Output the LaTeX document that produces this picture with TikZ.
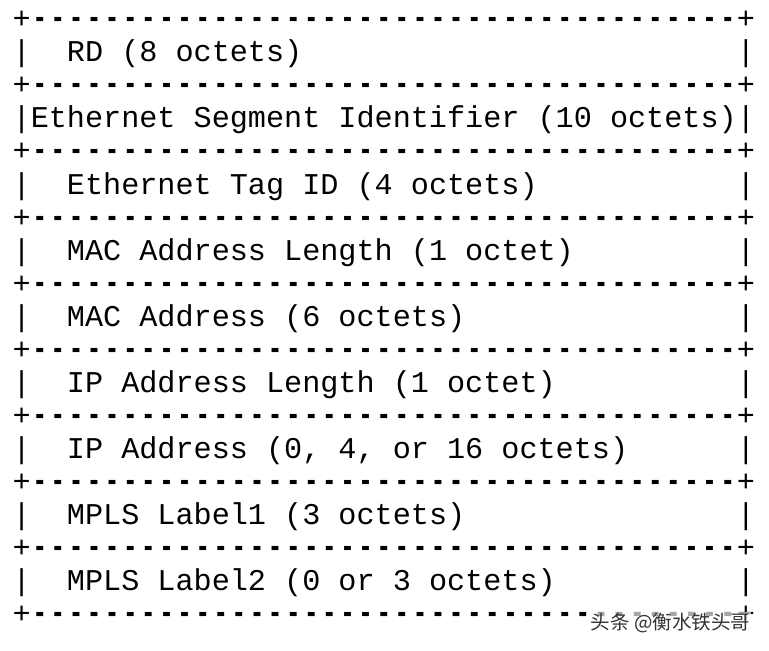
\documentclass[tikz,border=0pt]{standalone}
\usepackage{fontspec}
\newfontfamily\asciifont{Liberation Mono}
\newfontfamily\cjkfont{Noto Sans CJK SC}
\newcommand\dsh{\makebox[18.105pt]{\scalebox{0.8}[1.15]{\bfseries -}}}
\newcommand\dashten{\dsh\dsh\dsh\dsh\dsh\dsh\dsh\dsh\dsh\dsh}
\newcommand\dashline{\dashten\dashten\dashten\dsh\dsh\dsh\dsh\dsh\dsh\dsh\dsh\dsh}
\tikzset{
  cell/.style={anchor=base west, inner sep=0pt, outer sep=0pt,
    font=\asciifont\fontsize{30.17}{33}\selectfont},
  mark wm/.style={anchor=east, inner sep=1pt, outer sep=0pt, text=black!80,
    fill=white, fill opacity=0.65, text opacity=1,
    font=\cjkfont\fontsize{19.5}{20}\selectfont},
}
\begin{document}
\begin{tikzpicture}[x=1pt,y=1pt]
\useasboundingbox[fill=white] (0,0) rectangle (769,651);
% border rows
\foreach \k in {0,2,...,18}{
  \node[cell] (pl\k) at (12.65, {622.3-33.07*\k}) {+};
  \node[cell] (d\k) at ({12.65+18.105}, {622.3-33.07*\k}) {\dashline};
  \node[cell] (pr\k) at ({12.65+18.105*40}, {622.3-33.07*\k}) {+};
}
% side bars of content rows
\foreach \k in {1,3,...,17}{
  \node[cell] (l\k) at (12.65, {622.3-33.07*\k}) {|};
  \node[cell] (r\k) at ({12.65+18.105*40}, {622.3-33.07*\k}) {|};
}
% contents
\node[cell] (t1)  at ({12.65+18.105*3}, {622.3-33.07*1})  {RD (8 octets)};
\node[cell] (t3)  at ({12.65+18.105*1}, {622.3-33.07*3})  {Ethernet Segment Identifier (10 octets)};
\node[cell] (t5)  at ({12.65+18.105*3}, {622.3-33.07*5})  {Ethernet Tag ID (4 octets)};
\node[cell] (t7)  at ({12.65+18.105*3}, {622.3-33.07*7})  {MAC Address Length (1 octet)};
\node[cell] (t9)  at ({12.65+18.105*3}, {622.3-33.07*9})  {MAC Address (6 octets)};
\node[cell] (t11) at ({12.65+18.105*3}, {622.3-33.07*11}) {IP Address Length (1 octet)};
\node[cell] (t13) at ({12.65+18.105*3}, {622.3-33.07*13}) {IP Address (0, 4, or 16 octets)};
\node[cell] (t15) at ({12.65+18.105*3}, {622.3-33.07*15}) {MPLS Label1 (3 octets)};
\node[cell] (t17) at ({12.65+18.105*3}, {622.3-33.07*17}) {MPLS Label2 (0 or 3 octets)};
% watermark
\node[mark wm] (wm) at (751, 28) {头条 @衡水铁头哥};
\end{tikzpicture}
\end{document}
